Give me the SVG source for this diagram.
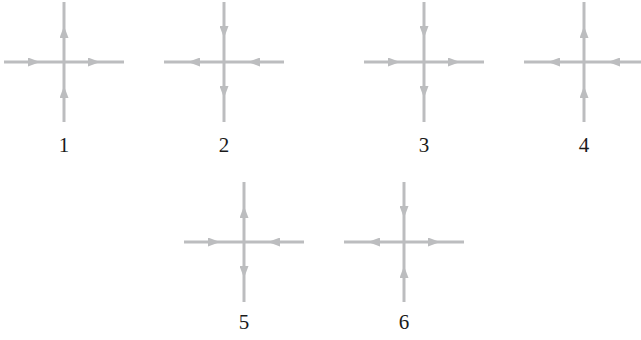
<svg xmlns="http://www.w3.org/2000/svg" width="641" height="340" viewBox="0 0 641 340">
<style>
.arm{fill:none;stroke:#bcbdbf;stroke-width:3;marker-mid:url(#ah)}
.lbl{font-family:"Liberation Serif","Times New Roman",serif;font-size:21px;fill:#1a1a1a;text-anchor:middle}
</style>
<defs>
<marker id="ah" viewBox="0 0 12 9" refX="12" refY="4.5" markerUnits="userSpaceOnUse" markerWidth="12" markerHeight="9" orient="auto">
<path d="M0 0 L12 4.5 L0 9 Z" fill="#bcbdbf"/>
</marker>
</defs>
<g id="cross1" transform="translate(64,62)">
<path class="arm" d="M-60 0 L-24 0 L0 0"/>
<path class="arm" d="M0 0 L36 0 L60 0"/>
<path class="arm" d="M0 0 L0 -36 L0 -60"/>
<path class="arm" d="M0 60 L0 24 L0 0"/>
<text class="lbl" x="0" y="90">1</text>
</g>
<g id="cross2" transform="translate(224,62)">
<path class="arm" d="M0 0 L-36 0 L-60 0"/>
<path class="arm" d="M60 0 L24 0 L0 0"/>
<path class="arm" d="M0 -60 L0 -24 L0 0"/>
<path class="arm" d="M0 0 L0 36 L0 60"/>
<text class="lbl" x="0" y="90">2</text>
</g>
<g id="cross3" transform="translate(424,62)">
<path class="arm" d="M-60 0 L-24 0 L0 0"/>
<path class="arm" d="M0 0 L36 0 L60 0"/>
<path class="arm" d="M0 -60 L0 -24 L0 0"/>
<path class="arm" d="M0 0 L0 36 L0 60"/>
<text class="lbl" x="0" y="90">3</text>
</g>
<g id="cross4" transform="translate(584,62)">
<path class="arm" d="M0 0 L-36 0 L-60 0"/>
<path class="arm" d="M60 0 L24 0 L0 0"/>
<path class="arm" d="M0 0 L0 -36 L0 -60"/>
<path class="arm" d="M0 60 L0 24 L0 0"/>
<text class="lbl" x="0" y="90">4</text>
</g>
<g id="cross5" transform="translate(244,242)">
<path class="arm" d="M-60 0 L-24 0 L0 0"/>
<path class="arm" d="M60 0 L24 0 L0 0"/>
<path class="arm" d="M0 0 L0 -36 L0 -60"/>
<path class="arm" d="M0 0 L0 36 L0 60"/>
<text class="lbl" x="0" y="87">5</text>
</g>
<g id="cross6" transform="translate(404,242)">
<path class="arm" d="M0 0 L-36 0 L-60 0"/>
<path class="arm" d="M0 0 L36 0 L60 0"/>
<path class="arm" d="M0 -60 L0 -24 L0 0"/>
<path class="arm" d="M0 60 L0 24 L0 0"/>
<text class="lbl" x="0" y="87">6</text>
</g>
</svg>
